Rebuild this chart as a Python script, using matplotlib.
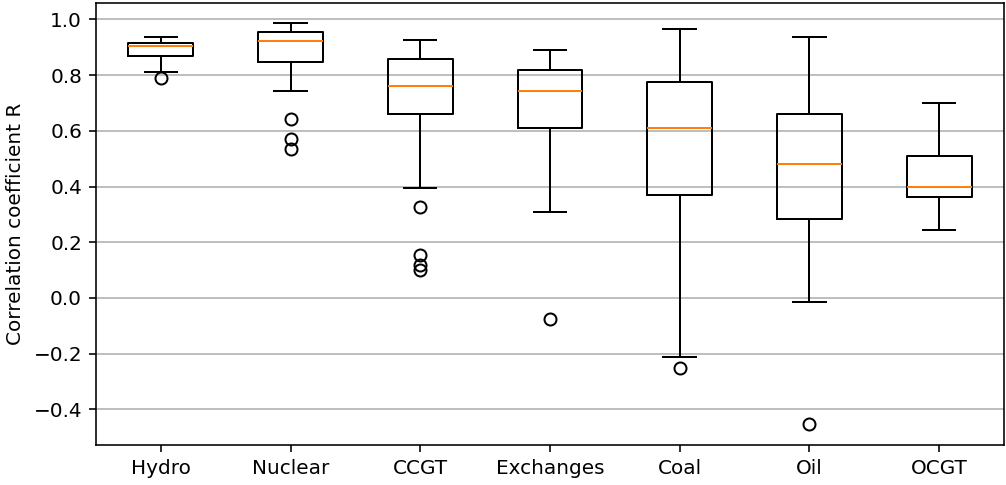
import matplotlib
matplotlib.use("Agg")
import matplotlib.pyplot as plt

categories = ["Hydro", "Nuclear", "CCGT", "Exchanges", "Coal", "Oil", "OCGT"]
whisker_high = [0.936, 0.987, 0.927, 0.892, 0.966, 0.937, 0.699]
q3 = [0.917, 0.954, 0.859, 0.817, 0.777, 0.662, 0.511]
median = [0.903, 0.924, 0.762, 0.742, 0.611, 0.480, 0.400]
q1 = [0.870, 0.846, 0.659, 0.610, 0.371, 0.284, 0.363]
whisker_low = [0.810, 0.742, 0.395, 0.307, -0.212, -0.016, 0.244]
outliers = [
    [0.790],
    [0.644, 0.571, 0.536],
    [0.327, 0.155, 0.117, 0.102],
    [-0.074],
    [-0.251],
    [-0.454],
    [],
]

stats = []
for i, name in enumerate(categories):
    stats.append(dict(label=name, whislo=whisker_low[i], q1=q1[i], med=median[i],
                      q3=q3[i], whishi=whisker_high[i], fliers=outliers[i]))

dpi = 144
fig = plt.figure(figsize=(1006 / dpi, 485 / dpi), dpi=dpi)
ax = fig.add_axes([96 / 1006, 1 - 444.5 / 485, (1004 - 96) / 1006, (444.5 - 3) / 485])
ax.bxp(stats, showfliers=True)
ax.yaxis.grid(True)
ax.set_axisbelow(True)
ax.set_ylabel("Correlation coefficient R")
fig.savefig("out.png", dpi=dpi)
